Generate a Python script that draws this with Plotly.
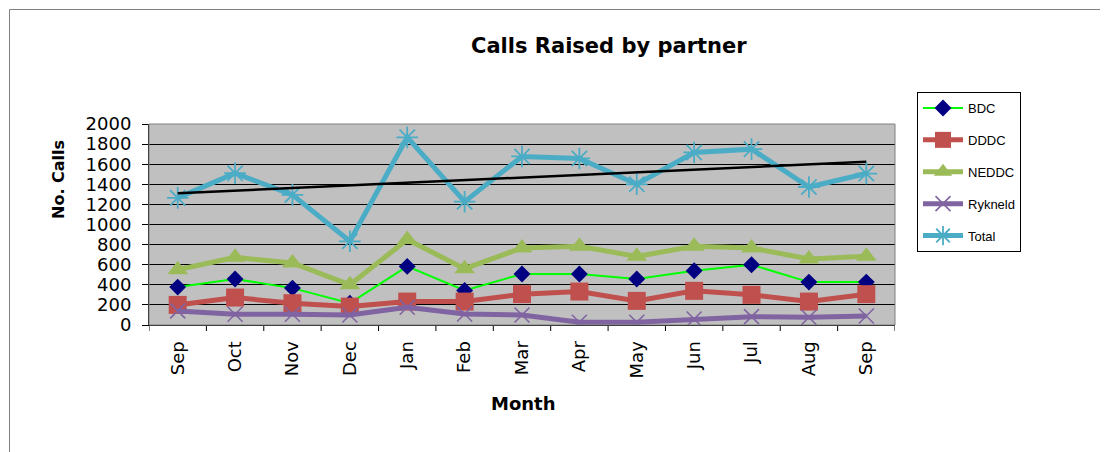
import numpy as np
import plotly.graph_objects as go

months = ["Sep", "Oct", "Nov", "Dec", "Jan", "Feb", "Mar", "Apr", "May", "Jun", "Jul", "Aug", "Sep"]
x_idx = list(range(len(months)))

bdc = [377, 457, 367, 217, 583, 343, 507, 507, 457, 540, 600, 427, 427]
dddc = [200, 273, 217, 183, 233, 233, 307, 333, 240, 340, 300, 233, 307]
neddc = [550, 673, 617, 400, 850, 560, 767, 783, 683, 783, 767, 657, 683]
rykneld = [140, 107, 107, 100, 177, 110, 100, 27, 27, 60, 83, 77, 90]
total = [1265, 1510, 1295, 833, 1867, 1227, 1677, 1657, 1400, 1717, 1750, 1373, 1507]

y_ticks = list(range(0, 2001, 200))

OFF = 8  # page body margin
W, H = 1108 - OFF, 452 - OFF
# plot area in screen pixels
SL, SR, ST, SB = 149, 895, 124, 325
L, R, T, B = SL - OFF, SR - OFF, ST - OFF, SB - OFF


def px_x(p):  # screen px -> paper
    return (p - SL) / (SR - SL)


def px_y(p):
    return (SB - p) / (SB - ST)


FONT = "DejaVu Sans, Arial, sans-serif"
LFONT = "Liberation Sans, Arial, sans-serif"

fig = go.Figure()

fig.add_trace(go.Scatter(
    x=x_idx, y=bdc, name="BDC", mode="lines+markers", legendgroup="a",
    line=dict(color="#00FF00", width=2),
    marker=dict(symbol="diamond", size=13, color="#000080", line=dict(width=0)),
))
fig.add_trace(go.Scatter(
    x=x_idx, y=dddc, name="DDDC", mode="lines+markers", legendgroup="b",
    line=dict(color="#C0504D", width=5),
    marker=dict(symbol="square", size=18, color="#C0504D", line=dict(width=0)),
))
fig.add_trace(go.Scatter(
    x=x_idx, y=neddc, name="NEDDC", mode="lines+markers", legendgroup="c",
    line=dict(color="#9BBB59", width=5),
    marker=dict(symbol="triangle-up", size=18, color="#9BBB59", line=dict(width=0)),
))
fig.add_trace(go.Scatter(
    x=x_idx, y=rykneld, name="Rykneld", mode="lines+markers", legendgroup="d",
    line=dict(color="#8064A2", width=5),
    marker=dict(symbol="x-thin-open", size=15, color="#8064A2", line=dict(width=1.6, color="#8064A2")),
))
fig.add_trace(go.Scatter(
    x=x_idx, y=total, name="Total", mode="lines+markers", legendgroup="e",
    line=dict(color="#4BACC6", width=5),
    marker=dict(symbol="asterisk-open", size=18, color="#4BACC6", line=dict(width=1.8, color="#4BACC6")),
))

# linear trend of Total
coef = np.polyfit(x_idx, total, 1)
trend = np.polyval(coef, x_idx)
fig.add_trace(go.Scatter(
    x=x_idx, y=trend, mode="lines", showlegend=False, hoverinfo="skip",
    line=dict(color="#000000", width=2.5),
))

fig.update_layout(
    width=W, height=H,
    margin=dict(l=L, r=W - R, t=T, b=H - B, pad=0),
    paper_bgcolor="white",
    plot_bgcolor="#C0C0C0",
    font=dict(family=FONT, color="black"),
    showlegend=True,
    legend=dict(
        x=px_x(917), y=px_y(92), xanchor="left", yanchor="top",
        bgcolor="white", bordercolor="black", borderwidth=1,
        font=dict(family=LFONT, size=13, color="black"),
        traceorder="grouped", tracegroupgap=12,
        itemwidth=40,
    ),
)

fig.update_xaxes(
    range=[-0.5, len(months) - 0.5],
    tickmode="array", tickvals=x_idx, ticktext=months,
    tickangle=-90, tickfont=dict(family=FONT, size=18, color="black"),
    showgrid=False, zeroline=False,
    showline=True, linecolor="black", linewidth=1,
    ticks="", ticklabelstandoff=8,
)
fig.update_yaxes(
    range=[0, 2000],
    tickmode="array", tickvals=y_ticks, ticktext=[str(v) for v in y_ticks],
    tickfont=dict(family=FONT, size=18, color="black"),
    showgrid=True, gridcolor="#000000", gridwidth=1,
    zeroline=False,
    showline=True, linecolor="black", linewidth=1,
    ticks="outside", ticklen=6, tickcolor="black", ticklabelstandoff=7,
)

# x-axis boundary tick marks (category boundaries)
for i in range(len(months) + 1):
    fig.add_shape(type="line", xref="x", yref="paper",
                  x0=i - 0.5, x1=i - 0.5, y0=0, y1=-6 / (SB - ST),
                  line=dict(color="black", width=1))

# plot area border (gray)
fig.add_shape(type="rect", xref="paper", yref="paper", x0=0, x1=1, y0=0, y1=1,
              line=dict(color="#808080", width=1), fillcolor="rgba(0,0,0,0)", layer="above")

# chart area frame
fig.add_shape(type="rect", xref="paper", yref="paper",
              x0=px_x(9.5), x1=px_x(1130), y0=px_y(470), y1=px_y(9.5),
              line=dict(color="#808080", width=1), fillcolor="rgba(0,0,0,0)")

fig.add_annotation(
    text="<b>Calls Raised by partner</b>", xref="paper", yref="paper",
    x=px_x(609), y=px_y(46), xanchor="center", yanchor="middle",
    showarrow=False, font=dict(family=FONT, size=21, color="black"),
)
fig.add_annotation(
    text="<b>Month</b>", xref="paper", yref="paper",
    x=px_x(523), y=px_y(403), xanchor="center", yanchor="middle",
    showarrow=False, font=dict(family=FONT, size=18, color="black"),
)
fig.add_annotation(
    text="<b>No. Calls</b>", xref="paper", yref="paper",
    x=px_x(58), y=px_y(180), xanchor="center", yanchor="middle",
    textangle=-90, showarrow=False, font=dict(family=FONT, size=16, color="black"),
)

fig.write_html("out.html")
